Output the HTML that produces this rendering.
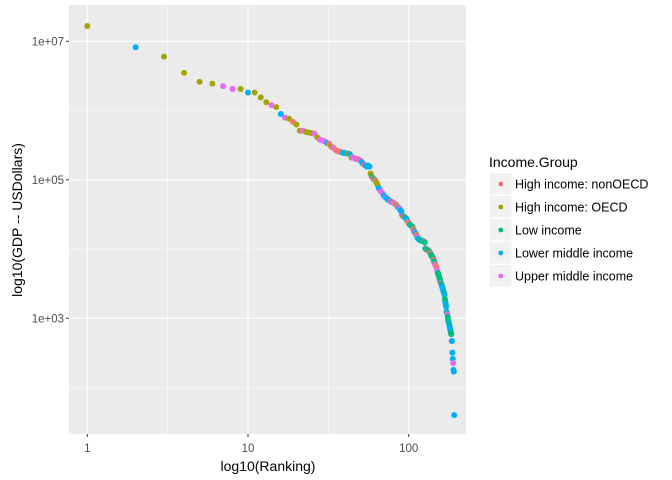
<!DOCTYPE html>
<html><head><meta charset="utf-8"><style>
body{margin:0;background:#fff;}
svg{display:block;font-family:"Liberation Sans",Arial,sans-serif;}
</style></head><body>
<svg id="chart" width="672" height="480" viewBox="0 0 672 480" xmlns="http://www.w3.org/2000/svg">
<rect x="69" y="5" width="397" height="429" fill="#ebebeb"/>
<g id="grid"></g>
<g id="pts"></g>
<g id="axes"></g>
<text x="268" y="471" font-size="14" text-anchor="middle" fill="#000">log10(Ranking)</text>
<text transform="translate(22,220) rotate(-90)" font-size="14" text-anchor="middle" fill="#000">log10(GDP -- USDollars)</text>
<g>
<text x="489" y="167" font-size="14" fill="#000">Income.Group</text>
<g id="legend-items"></g>
</g>
</svg>
<script>
const groupNames = ["High income: nonOECD","High income: OECD","Low income","Lower middle income","Upper middle income"];
const groupCodes = ["H","O","L","M","U"];
const groupColors = ["#F8766D","#A3A500","#00BF7D","#00B0F6","#E76BF3"];
const xTicks = [1,10,100];
const xTickLabels = ["1","10","100"];
const yTicks = [1e7,1e5,1e3];
const yTickLabels = ["1e+07","1e+05","1e+03"];
const gdp = [1.66e7,8.2e6,6.0e6,3.5e6,2.6e6,2.45e6,2.25e6,2.05e6,2.05e6,1.82e6,
1.82e6,1.55e6,1.32e6,1.2e6,1.12e6,8.9e5,7.9e5,7.6e5,6.9e5,6.3e5,
5.1e5,5.1e5,4.9e5,4.8e5,4.7e5,4.6e5,4.1e5,3.8e5,3.7e5,3.6e5,
3.4e5,3.3e5,3.0e5,2.9e5,2.7e5,2.6e5,2.55e5,2.5e5,2.45e5,2.45e5,
2.4e5,2.4e5,2.35e5,2.1e5,2.1e5,2.05e5,2.0e5,2.0e5,1.95e5,1.9e5,
1.8e5,1.7e5,1.65e5,1.6e5,1.55e5,1.6e5,1.55e5,1.23e5,1.1e5,1.05e5,
1.02e5,9.8e4,9.1e4,8.5e4,7.6e4,7.3e4,6.8e4,6.6e4,6.3e4,5.9e4,
5.7e4,5.5e4,5.4e4,5.2e4,5.1e4,5.0e4,4.9e4,4.8e4,4.75e4,4.7e4,
4.6e4,4.5e4,4.4e4,4.3e4,4.1e4,4.0e4,3.9e4,3.8e4,3.6e4,3.5e4,
3.1e4,3.0e4,2.95e4,2.9e4,2.85e4,2.8e4,2.7e4,2.55e4,2.45e4,2.35e4,
2.3e4,2.25e4,2.2e4,2.15e4,2.1e4,2.05e4,1.95e4,1.8e4,1.75e4,1.7e4,
1.65e4,1.6e4,1.47e4,1.45e4,1.4e4,1.38e4,1.36e4,1.34e4,1.33e4,1.32e4,
1.31e4,1.3e4,1.3e4,1.29e4,1.28e4,1.25e4,1.02e4,1.0e4,9.9e3,9.8e3,
9.7e3,9.6e3,9.5e3,9.3e3,9.0e3,8.8e3,8.6e3,8.2e3,7.9e3,7.7e3,
7.5e3,7.4e3,7.0e3,6.6e3,6.3e3,6.0e3,5.8e3,5.6e3,5.5e3,5.0e3,
4.7e3,4.5e3,4.3e3,4.1e3,3.9e3,3.7e3,3.5e3,3.3e3,3.2e3,3.1e3,
2.9e3,2.8e3,2.7e3,2.5e3,2.4e3,2.3e3,2.2e3,1.9e3,1.74e3,1.6e3,
1.47e3,1.25e3,1.2e3,1.15e3,1.05e3,9.5e2,9.0e2,8.5e2,8.0e2,7.5e2,
7.0e2,6.7e2,6.2e2,5.9e2,4.7e2,4.7e2,3.2e2,2.6e2,2.25e2,1.8e2,
1.7e2,40];
const groups = ["O","M","O","O","O","O","U","U","O","M",
"O","O","O","U","O","M","U","O","H","O",
"O","U","O","O","O","U","O","U","U","U",
"M","H","O","U","H","H","H","H","M","M",
"M","O","M","O","U","U","U","U","H","U",
"M","M","H","M","M","M","M","O","L","H",
"L","H","O","O","M","M","U","U","U","M",
"M","U","M","M","M","M","U","O","M","U",
"H","U","U","O","U","H","M","U","M","M",
"M","H","L","U","L","L","M","M","H","H",
"H","L","L","M","L","L","H","L","U","M",
"M","H","M","U","M","M","L","M","M","L",
"L","L","L","L","U","L","M","L","L","L",
"H","L","L","L","H","L","H","L","L","L",
"L","L","H","L","L","U","H","U","H","U",
"U","L","L","L","L","L","L","M","H","L",
"M","M","M","M","M","L","M","L","L","M",
"M","M","L","U","L","L","L","M","L","M",
"M","M","L","L","U","M","M","M","U","M",
"M","M"];

const NS="http://www.w3.org/2000/svg";
const X0=87.3, XD=160.7, Y7=41.3, YD=69.25;
function xScale(r){return X0+XD*Math.log10(r);}
function yScale(v){return Y7+(7-Math.log10(v))*YD;}
function mk(tag,attrs,parent){const e=document.createElementNS(NS,tag);for(const k in attrs)e.setAttribute(k,attrs[k]);parent.appendChild(e);return e;}

const grid=document.getElementById('grid');
[1e6,1e4,1e2].forEach(v=>{
  const l=mk('line',{x1:69,x2:466,y1:yScale(v),y2:yScale(v),stroke:'#fff','stroke-width':0.5},grid);
  
  
});
[Math.sqrt(10),Math.sqrt(1000)].forEach(v=>{
  const l=mk('line',{x1:xScale(v),x2:xScale(v),y1:5,y2:434,stroke:'#fff','stroke-width':0.5},grid);
  
  
});
const axes=document.getElementById('axes');
yTicks.forEach((v,i)=>{
  const y=yScale(v);
  const l=mk('line',{x1:69,x2:466,y1:y,y2:y,stroke:'#fff','stroke-width':1.1},grid);
  
  
  const t=mk('line',{x1:66,x2:69,y1:y,y2:y,stroke:'#333','stroke-width':1},axes);
  
  
  const tx=mk('text',{x:64,y:y+4,'font-size':11.5,'text-anchor':'end',fill:'#4d4d4d'},axes);
  tx.textContent=yTickLabels[i];
  
  
});
xTicks.forEach((v,i)=>{
  const x=xScale(v);
  const l=mk('line',{x1:x,x2:x,y1:5,y2:434,stroke:'#fff','stroke-width':1.1},grid);
  
  
  const t=mk('line',{x1:x,x2:x,y1:434,y2:437,stroke:'#333','stroke-width':1},axes);
  
  
  const tx=mk('text',{x:x,y:452,'font-size':11.5,'text-anchor':'middle',fill:'#4d4d4d'},axes);
  tx.textContent=xTickLabels[i];
  
  
});
const pts=document.getElementById('pts');
gdp.forEach((v,i)=>{
  const g=groupCodes.indexOf(groups[i]);
  const c=mk('circle',{cx:xScale(i+1),cy:yScale(v),r:3,fill:groupColors[g]},pts);
  
  
});
const li=document.getElementById('legend-items');
groupNames.forEach((n,i)=>{
  const cy=184+i*23;
  const r=mk('rect',{x:490,y:cy-11,width:21.5,height:21.5,fill:'#f2f2f2'},li);
  
  
  const c=mk('circle',{cx:500.8,cy:cy,r:2.4,fill:groupColors[i]},li);
  
  
  const t=mk('text',{x:515,y:cy+4.5,'font-size':12.5,fill:'#000'},li);
  t.textContent=n;
  
  
});
</script>
</body></html>
